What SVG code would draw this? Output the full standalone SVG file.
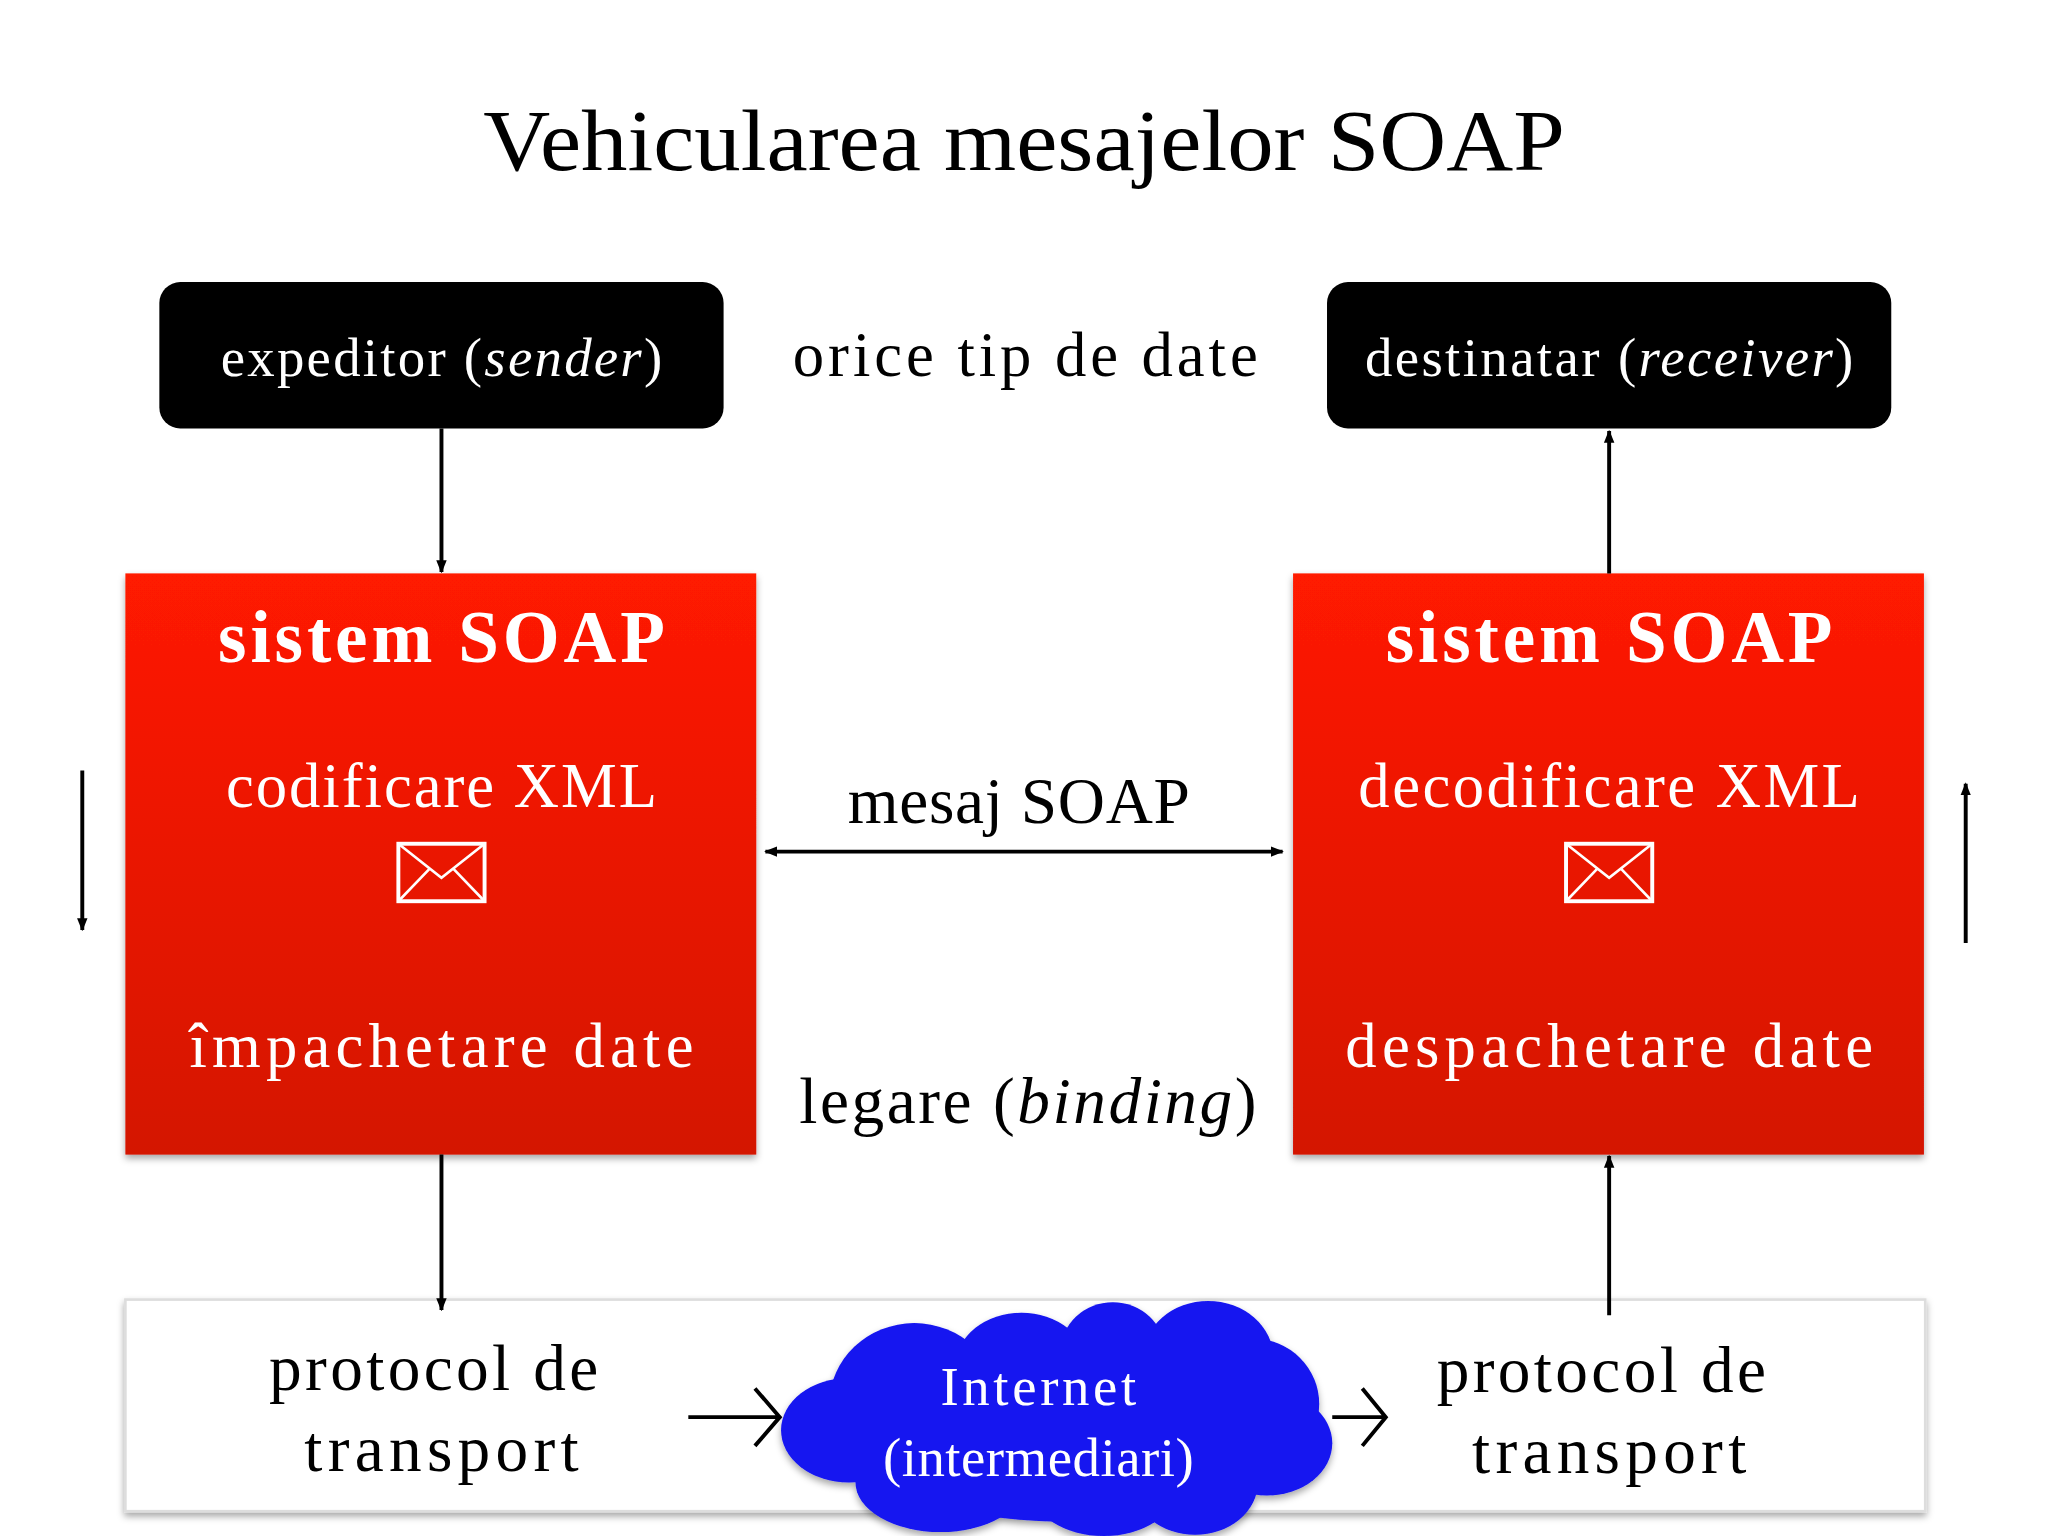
<svg xmlns="http://www.w3.org/2000/svg" width="2048" height="1536" viewBox="0 0 2048 1536">
<style>
text{font-family:"Liberation Serif","DejaVu Serif",serif;text-anchor:middle}
.w{fill:#fff}
.l{stroke:#000;stroke-width:3;fill:none}
</style>
<defs>
<linearGradient id="rg" x1="0" y1="0" x2="0" y2="1"><stop offset="0" stop-color="#ff1a00"/><stop offset="1" stop-color="#d41200"/></linearGradient>
<marker id="ah" markerWidth="10" markerHeight="10" refX="9" refY="5" orient="auto" markerUnits="userSpaceOnUse"><path d="M0,1 L10,5 L0,9 z" fill="#000"/></marker>
<marker id="ah2" markerWidth="10" markerHeight="10" refX="1" refY="5" orient="auto" markerUnits="userSpaceOnUse"><path d="M10,1 L0,5 L10,9 z" fill="#000"/></marker>
<filter id="sh"><feDropShadow dx="0" dy="3" stdDeviation="3" flood-opacity="0.35"/></filter>
</defs>
<rect width="2048" height="1536" fill="#fff"/>
<g transform="scale(1.30612)">
<text x="784" y="130" font-size="66" textLength="828" lengthAdjust="spacingAndGlyphs">Vehicularea mesajelor SOAP</text>
<g id="sender"><rect x="122" y="216" width="432" height="112" rx="16" fill="#000"/><text class="w" x="338" y="288" font-size="42" textLength="338">expeditor (<tspan font-style="italic">sender</tspan>)</text></g>
<g id="receiver"><rect x="1016" y="216" width="432" height="112" rx="16" fill="#000"/><text class="w" x="1232" y="288" font-size="42" textLength="374">destinatar (<tspan font-style="italic">receiver</tspan>)</text></g>
<text x="785" y="288" font-size="48" textLength="356">orice tip de date</text>
<g id="soap1"><rect x="96" y="439" width="483" height="445" fill="url(#rg)" filter="url(#sh)"/>
<text class="w" x="338" y="507" font-size="56" font-weight="bold" textLength="342">sistem SOAP</text>
<text class="w" x="338" y="618" font-size="48" textLength="330">codificare XML</text>
<rect x="305" y="646" width="66" height="44" fill="none" stroke="#fff" stroke-width="3"/><path d="M305,646 L338,672 L371,646 M305,690 L329,665 M371,690 L347,665" stroke="#fff" stroke-width="2" fill="none"/>
<text class="w" x="338" y="817" font-size="48" textLength="386">împachetare date</text></g>
<g id="soap2"><rect x="990" y="439" width="483" height="445" fill="url(#rg)" filter="url(#sh)"/>
<text class="w" x="1232" y="507" font-size="56" font-weight="bold" textLength="342">sistem SOAP</text>
<text class="w" x="1232" y="618" font-size="48" textLength="384">decodificare XML</text>
<rect x="1199" y="646" width="66" height="44" fill="none" stroke="#fff" stroke-width="3"/><path d="M1199,646 L1232,672 L1265,646 M1199,690 L1223,665 M1265,690 L1241,665" stroke="#fff" stroke-width="2" fill="none"/>
<text class="w" x="1232" y="817" font-size="48" textLength="404">despachetare date</text></g>
<text x="780" y="630" font-size="50" textLength="262">mesaj SOAP</text>
<text x="787" y="860" font-size="50" textLength="350">legare (<tspan font-style="italic">binding</tspan>)</text>
<g id="transport"><rect x="96" y="995" width="1378" height="162" fill="#fff" stroke="#ddd" stroke-width="2" filter="url(#sh)"/>
<text x="332" y="1064" font-size="50" textLength="252">protocol de</text><text x="338" y="1126" font-size="50" textLength="210">transport</text>
<text x="1226" y="1066" font-size="50" textLength="252">protocol de</text><text x="1232" y="1128" font-size="50" textLength="210">transport</text></g>
<g id="internet"><g fill="#1414f0" filter="url(#sh)">
<ellipse cx="700" cy="1075" rx="65" ry="62"/><ellipse cx="782" cy="1045" rx="50" ry="40"/><ellipse cx="852" cy="1035" rx="40" ry="38"/><ellipse cx="925" cy="1040" rx="50" ry="44"/><ellipse cx="960" cy="1075" rx="50" ry="50"/><ellipse cx="970" cy="1105" rx="50" ry="40"/><ellipse cx="915" cy="1135" rx="48" ry="40"/><ellipse cx="845" cy="1140" rx="55" ry="36"/><ellipse cx="720" cy="1135" rx="65" ry="38"/><ellipse cx="650" cy="1095" rx="52" ry="40"/><ellipse cx="810" cy="1095" rx="150" ry="70"/></g>
<text class="w" x="795" y="1076" font-size="42" textLength="150">Internet</text><text class="w" x="795" y="1130" font-size="42" textLength="238">(intermediari)</text></g>
<g id="connectors">
<line class="l" x1="338" y1="328" x2="338" y2="438" marker-end="url(#ah)"/>
<line class="l" x1="1232" y1="439" x2="1232" y2="330" marker-end="url(#ah)"/>
<line class="l" x1="338" y1="884" x2="338" y2="1003" marker-end="url(#ah)"/>
<line class="l" x1="1232" y1="1007" x2="1232" y2="885" marker-end="url(#ah)"/>
<line class="l" x1="63" y1="590" x2="63" y2="712" marker-end="url(#ah)"/>
<line class="l" x1="1505" y1="722" x2="1505" y2="600" marker-end="url(#ah)"/>
<line class="l" x1="586" y1="652" x2="982" y2="652" marker-start="url(#ah2)" marker-end="url(#ah)"/>
<path class="l" stroke-width="4" d="M527,1085 H596 M578,1063 L597,1085 L578,1107"/>
<path class="l" stroke-width="4" d="M1020,1085 H1060 M1043,1063 L1061,1085 L1043,1107"/>
</g>
</g>
</svg>
